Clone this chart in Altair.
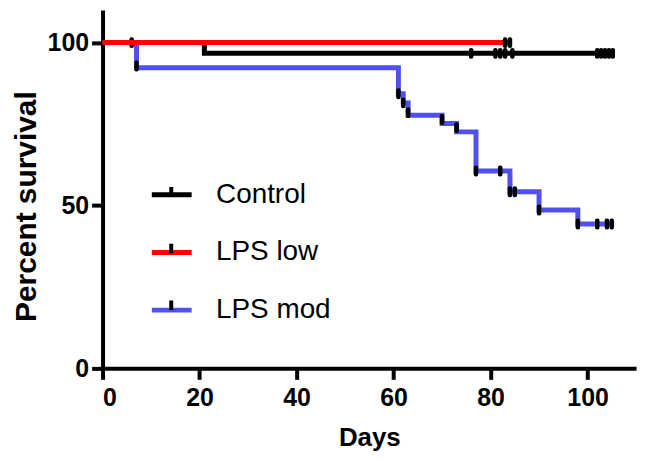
import altair as alt
import pandas as pd

series_names = ["Control", "LPS low", "LPS mod"]
series_colors = ["#000000", "#FF0000", "#5050F0"]
# keys for the censor-tick legend (trailing space keeps it a separate legend)
censor_keys = ["Control ", "LPS low ", "LPS mod "]
tick_colors = ["#000000", "#000000", "#000000"]

# Kaplan-Meier step curves (step-after)
control_days = [0, 21, 105.5]
control_surv = [100, 96.7, 96.7]
control_cens_days = [76, 81, 82, 83, 84.5, 102, 102.8, 103.6, 104.4, 105.2]
control_cens_surv = [96.7, 96.7, 96.7, 96.7, 96.7, 96.7, 96.7, 96.7, 96.7, 96.7]

low_days = [0, 84]
low_surv = [100, 100]
low_cens_days = [83, 84]
low_cens_surv = [100, 100]

mod_days = [0, 7, 61, 62, 63, 70, 73, 77, 84, 90, 98, 105.4]
mod_surv = [100, 92.3, 84.3, 81.5, 77.7, 75.2, 72.6, 60.6, 54.2, 48.6, 44.3, 44.3]
mod_cens_days = [6, 7, 61, 62, 63, 70, 73, 77, 82, 84, 85, 90, 98, 102, 104, 105]
mod_cens_surv = [100, 92.8, 84.3, 81.5, 78.5, 76.4, 73.9, 60.6, 60.6, 54.2, 54.2, 48.6, 44.3, 44.3, 44.3, 44.3]

x_ticks = [0, 20, 40, 60, 80, 100]
y_ticks = [0, 50, 100]


def frame(i, days, surv):
    return pd.DataFrame({
        "series": [series_names[i]] * len(days),
        "censored": [censor_keys[i]] * len(days),
        "day": days,
        "surv": surv,
    })


lines_ctrl = frame(0, control_days, control_surv)
lines_low = frame(1, low_days, low_surv)
lines_mod = frame(2, mod_days, mod_surv)
cens_under = pd.concat([
    frame(0, control_cens_days, control_cens_surv),
    frame(2, mod_cens_days, mod_cens_surv),
])
cens_low = frame(1, low_cens_days, low_cens_surv)

x_enc = alt.X(
    "day:Q",
    scale=alt.Scale(domain=[0, 110], nice=False, zero=False),
    axis=alt.Axis(
        values=x_ticks, title="Days", titleFontSize=26,
        labelBaseline="alphabetic", labelPadding=26,
        titleY=78, titleBaseline="alphabetic",
    ),
)
y_enc = alt.Y(
    "surv:Q",
    scale=alt.Scale(domain=[0, 110], nice=False),
    axis=alt.Axis(
        values=y_ticks, title="Percent survival", titleFontSize=30,
        labelPadding=3, titleX=-67, titleY=197, titleBaseline="alphabetic",
    ),
)

legend_common = dict(
    title=None, orient="none", legendX=47, legendY=163,
    symbolSize=1600, labelFont="Liberation Sans", labelFontSize=28,
    rowPadding=21, labelOffset=22, padding=0,
)

color_enc = alt.Color(
    "series:N",
    scale=alt.Scale(domain=series_names, range=series_colors),
    legend=alt.Legend(
        symbolType="M-1,0L1,0", symbolStrokeWidth=5, labelColor="black",
        symbolOpacity=1, **legend_common,
    ),
)

fill_enc = alt.Fill(
    "censored:N",
    scale=alt.Scale(domain=censor_keys, range=tick_colors),
    legend=alt.Legend(
        symbolType="M0,0.12L0,-0.36", symbolStrokeColor="black",
        symbolStrokeWidth=4, labelExpr="''", labelColor="black",
        symbolOpacity=1, **legend_common,
    ),
)


def line_layer(df):
    return alt.Chart(df).mark_line(interpolate="step-after", strokeWidth=5).encode(
        x=x_enc, y=y_enc, color=color_enc
    )


def tick_layer(df):
    return alt.Chart(df).mark_tick(
        orient="vertical", size=11, thickness=4.5, cornerRadius=2, opacity=1
    ).encode(x=x_enc, y=y_enc, fill=fill_enc)


chart = alt.layer(
    line_layer(lines_ctrl),
    line_layer(lines_mod),
    tick_layer(cens_under),
    line_layer(lines_low),
    tick_layer(cens_low),
).properties(
    width=536,
    height=360,
    autosize=alt.AutoSizeParams(type="none"),
    padding={"left": 95, "top": 1, "right": 10, "bottom": 85},
).configure_view(stroke=None).configure_axis(
    domainColor="black", domainWidth=4, tickColor="black", tickWidth=4,
    tickSize=11, grid=False,
    labelFont="Liberation Sans", labelFontSize=25, labelFontWeight="bold",
    labelColor="black",
    titleFont="Liberation Sans", titleFontWeight="bold", titleColor="black",
)

chart.save("out.html", embed_options={"renderer": "svg", "actions": False})
